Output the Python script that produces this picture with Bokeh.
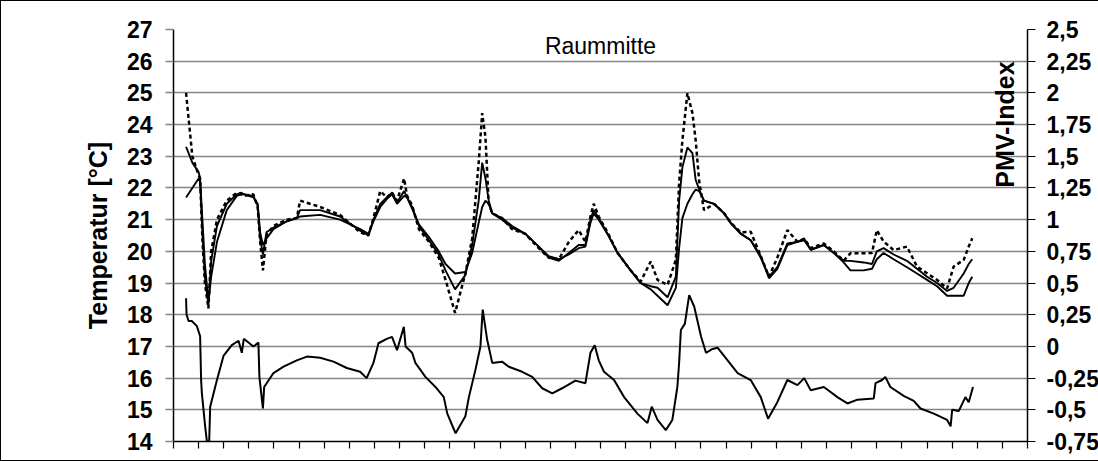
from bokeh.plotting import figure
from bokeh.models import Range1d, LinearAxis, FixedTicker, Label, CustomJSTickFormatter
from bokeh.embed import file_html
from bokeh.resources import INLINE
import math

# ---------------- data ----------------
# time axis in days (34 tick intervals, no labels)
x_days = list(range(0, 35))

t_x = [0.5, 0.75, 1.0, 1.06, 1.15, 1.25, 1.39, 1.5, 1.73, 2.12, 2.52, 2.7, 2.8, 3.18, 3.35, 3.45, 3.56, 3.7,
       3.98, 4.51, 4.91, 5.04, 5.84, 6.63, 7.43, 7.76, 7.96, 8.23, 8.49, 8.7, 8.9, 9.18, 9.3, 9.5, 9.77,
       10.17, 10.56, 10.83, 11.21, 11.62, 11.89, 12.15, 12.29, 12.42, 12.55, 12.69, 13.08, 13.48, 14.01,
       14.54, 14.94, 15.34, 15.74, 16.13, 16.4, 16.6, 16.73, 16.93, 17.28, 17.68, 18.2, 18.6, 19.0, 19.27,
       19.67, 20.0, 20.13, 20.26, 20.46, 20.66, 20.79, 20.93, 21.12, 21.52, 21.92, 22.19, 22.58, 22.98,
       23.38, 23.71, 24.04, 24.44, 24.84, 25.11, 25.37, 25.89, 26.29, 26.68, 26.95, 27.48, 27.81, 28.0,
       28.27, 28.67, 29.2, 29.6, 30.0, 30.4, 30.8, 31.06, 31.46, 31.66, 31.8]

# lagging (smooth) temperature
t_b = [21.7, 22.0, 22.3, 22.2, 21.0, 19.6, 18.4, 19.2, 20.3, 21.3, 21.75, 21.8, 21.8, 21.7, 21.5, 20.6, 20.2, 20.4,
       20.7, 20.95, 21.05, 21.1, 21.15, 21.0, 20.7, 20.55, 20.95, 21.4, 21.65, 21.8, 21.5, 21.75, 21.7, 21.35, 20.85,
       20.45, 20.0, 19.6, 19.3, 19.35, 19.95, 20.9, 21.4, 21.6, 21.5, 21.2, 21.05, 20.8, 20.55,
       20.15, 19.85, 19.75, 19.9, 20.1, 20.15, 20.9, 21.2, 21.0, 20.55, 19.95, 19.4, 19.0, 18.8, 18.6,
       18.3, 18.85, 20.1, 21.05, 21.5, 21.8, 21.95, 21.9, 21.6, 21.5, 21.2, 20.88, 20.57, 20.35,
       19.85, 19.15, 19.45, 20.2, 20.3, 20.35, 20.05, 20.2, 19.95, 19.65, 19.4, 19.4, 19.45, 19.75,
       19.95, 19.75, 19.5, 19.3, 19.1, 18.9, 18.6, 18.6, 18.6, 19.0, 19.2]

# middle temperature
t_a = [23.3, 22.8, 22.5, 22.3, 20.6, 19.2, 18.3, 19.7, 20.8, 21.5, 21.8, 21.85, 21.8, 21.75, 21.45, 20.4, 19.9, 20.6,
       20.75, 20.95, 21.05, 21.3, 21.3, 21.1, 20.65, 20.5, 21.0, 21.5, 21.7, 21.85, 21.55, 21.9, 21.7, 21.4, 20.8,
       20.35, 19.9, 19.4, 18.8, 19.25, 20.2, 21.6, 22.8, 22.3, 21.6, 21.2, 21.0, 20.75, 20.55,
       20.15, 19.8, 19.7, 19.95, 20.2, 20.2, 21.0, 21.3, 21.05, 20.55, 19.95, 19.4, 19.0, 18.9, 18.85,
       18.55, 19.2, 21.6, 22.65, 23.28, 23.1, 22.25, 21.95, 21.6, 21.5, 21.2, 20.9, 20.55, 20.35,
       19.8, 19.2, 19.5, 20.25, 20.3, 20.4, 20.05, 20.2, 19.95, 19.7, 19.7, 19.65, 19.6, 20.0,
       20.1, 19.9, 19.7, 19.45, 19.2, 19.0, 18.75, 18.85, 19.3, 19.6, 19.75]

# dotted temperature (extremes)
t_d = [25.0, 23.0, 22.4, 22.3, 20.4, 19.0, 18.2, 20.0, 21.0, 21.6, 21.85, 21.8, 21.75, 21.8, 21.4, 20.3, 19.4, 20.5,
       20.8, 21.0, 21.05, 21.6, 21.4, 21.15, 20.6, 20.5, 21.05, 21.9, 21.7, 21.85, 21.6, 22.3, 21.75, 21.45, 20.7,
       20.3, 19.8, 19.1, 18.06, 19.3, 20.4, 22.8, 24.36, 23.6, 21.5, 21.2, 21.05, 20.7, 20.55,
       20.1, 19.8, 19.75, 20.3, 20.67, 20.3, 21.1, 21.5, 21.1, 20.6, 19.95, 19.4, 19.05, 19.68, 19.1,
       18.94, 19.73, 22.15, 23.5, 24.99, 24.36, 23.5, 22.2, 21.3, 21.5, 21.2, 20.9, 20.6, 20.62,
       19.85, 19.2, 19.8, 20.67, 20.3, 20.4, 20.1, 20.25, 20.0, 19.7, 19.94, 19.94, 19.95, 20.67,
       20.31, 20.04, 20.15, 19.52, 19.31, 19.1, 18.83, 19.52, 19.73, 20.15, 20.41]

pmv_x = [0.5, 0.52, 0.6, 0.73, 0.93, 1.06, 1.1, 1.13, 1.26, 1.33, 1.4, 1.46, 1.73, 1.99, 2.32, 2.59, 2.72, 2.8,
         3.18, 3.38, 3.42, 3.56, 3.61, 3.98, 4.38, 4.91, 5.31, 5.84, 6.37, 6.9, 7.43, 7.69, 7.96, 8.16, 8.49,
         8.7, 8.9, 9.17, 9.24, 9.5, 9.63, 10.03, 10.43, 10.76, 10.9, 11.23, 11.62, 11.76, 12.02, 12.22, 12.31,
         12.49, 12.69, 13.08, 13.35, 13.88, 14.28, 14.68, 15.08, 15.47, 16.0, 16.4, 16.6, 16.77, 16.93, 17.14,
         17.54, 17.94, 18.47, 18.87, 19.04, 19.27, 19.6, 19.86, 20.06, 20.13, 20.2, 20.36, 20.53, 20.73, 21.0,
         21.2, 21.46, 21.66, 22.06, 22.46, 22.98, 23.38, 23.67, 24.04, 24.44, 24.84, 25.11, 25.37, 25.89,
         26.16, 26.43, 26.83, 27.23, 27.88, 27.95, 28.21, 28.34, 28.54, 29.07, 29.47, 29.74, 30.27, 30.8,
         30.94, 31.0, 31.26, 31.53, 31.66, 31.83]
pmv = [0.38, 0.25, 0.2, 0.2, 0.16, 0.08, -0.27, -0.37, -0.63, -0.75, -0.9, -0.475, -0.265, -0.075, 0.01, 0.045,
       -0.05, 0.06, 0.0, 0.03, -0.24, -0.49, -0.32, -0.21, -0.16, -0.11, -0.08, -0.09, -0.12, -0.17, -0.2, -0.25,
       -0.13, 0.025, 0.06, 0.075, -0.03, 0.155, 0.0, -0.05, -0.13, -0.24, -0.32, -0.4, -0.53, -0.685, -0.55,
       -0.4, -0.185, 0.0, 0.29, 0.05, -0.13, -0.12, -0.16, -0.2, -0.24, -0.33, -0.37, -0.33, -0.27, -0.29,
       -0.05, 0.01, -0.11, -0.2, -0.265, -0.4, -0.53, -0.605, -0.475, -0.58, -0.66, -0.58, -0.32, -0.13, 0.13,
       0.18, 0.405, 0.315, 0.08, -0.05, -0.02, -0.01, -0.11, -0.21, -0.265, -0.4, -0.57, -0.44, -0.265, -0.305,
       -0.25, -0.345, -0.32, -0.36, -0.4, -0.45, -0.42, -0.41, -0.29, -0.265, -0.24, -0.32, -0.39, -0.43,
       -0.49, -0.53, -0.58, -0.63, -0.5, -0.51, -0.4, -0.44, -0.32]

temp_ticks = list(range(14, 28))
pmv_ticks = [-0.75, -0.5, -0.25, 0, 0.25, 0.5, 0.75, 1, 1.25, 1.5, 1.75, 2, 2.25, 2.5]

title_text = "Raummitte"
left_label = "Temperatur [°C]"
right_label = "PMV-Index"

# ---------------- figure ----------------
FONT = "Liberation Sans"

p = figure(frame_width=854, frame_height=412,
           x_range=Range1d(0, 34), y_range=Range1d(14, 27),
           output_backend="svg", toolbar_location=None,
           min_border_left=172, min_border_right=60, min_border_top=28, min_border_bottom=19,
           background_fill_color="white", border_fill_color="white")
p.outline_line_color = None
p.extra_y_ranges = {"pmv": Range1d(-0.75, 2.5)}
p.styles = {"border": "1px solid black", "box-sizing": "border-box"}

# grid
p.xgrid.visible = False
p.ygrid.grid_line_color = "#858585"
p.ygrid.grid_line_width = 1.5

# x axis (ticks only, no labels)
p.xaxis.ticker = FixedTicker(ticks=x_days)
p.xaxis.formatter = CustomJSTickFormatter(code="return '';")
p.xaxis.major_label_standoff = 0
p.xaxis.major_tick_out = 7
p.xaxis.major_tick_in = 0
p.xaxis.minor_tick_line_color = None
p.xaxis.axis_line_color = "black"
p.xaxis.axis_line_width = 1.5
p.xaxis.major_tick_line_width = 1.2

# left axis
ya = p.yaxis[0]
ya.ticker = FixedTicker(ticks=temp_ticks)
ya.axis_label = left_label
ya.axis_label_text_font = FONT
ya.axis_label_text_font_size = "25px"
ya.axis_label_text_font_style = "bold"
ya.axis_label_text_color = "black"
ya.axis_label_standoff = 12
ya.major_label_text_font = FONT
ya.major_label_text_font_size = "23px"
ya.major_label_text_font_style = "bold"
ya.major_label_text_color = "black"
ya.major_label_standoff = 13
ya.major_tick_out = 8
ya.major_tick_in = 0
ya.minor_tick_line_color = None
ya.axis_line_width = 1.5
ya.major_tick_line_color = "#858585"
ya.major_tick_line_width = 1.5

# right axis
ra = LinearAxis(y_range_name="pmv", ticker=FixedTicker(ticks=pmv_ticks),
                formatter=CustomJSTickFormatter(code="return tick.toString().replace('.', ',');"))
ra.major_label_text_font = FONT
ra.major_label_text_font_size = "23px"
ra.major_label_text_font_style = "bold"
ra.major_label_text_color = "black"
ra.major_label_standoff = 11
ra.major_tick_out = 8
ra.major_tick_in = 0
ra.minor_tick_line_color = None
ra.axis_line_width = 1.5
ra.major_tick_line_width = 1.2
p.add_layout(ra, "right")

# lines
p.line(t_x, t_b, line_color="black", line_width=1.9)
p.line(t_x, t_a, line_color="black", line_width=1.9)
p.line(t_x, t_d, line_color="black", line_width=2.5, line_dash="4 3")
p.line(pmv_x, pmv, line_color="black", line_width=2.0, y_range_name="pmv")

# texts
p.add_layout(Label(x=17, y=27, text=title_text, text_align="center", text_baseline="top",
                   y_offset=-3, text_font=FONT, text_font_size="23px", text_color="black"))
p.add_layout(Label(x=33.12, y=24.0, text=right_label, text_align="center", text_baseline="middle",
                   angle=math.pi / 2, text_font=FONT, text_font_size="25px", text_font_style="bold",
                   text_color="black"))

open("out.html", "w").write(file_html(p, INLINE))
